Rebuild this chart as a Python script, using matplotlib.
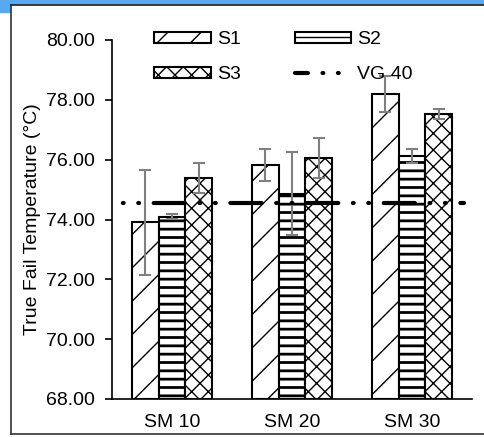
import matplotlib
matplotlib.use("Agg")
import matplotlib.pyplot as plt
import numpy as np
from matplotlib.patches import Rectangle
from matplotlib.lines import Line2D

plt.rcParams['font.family'] = ['Liberation Sans', 'DejaVu Sans']
plt.rcParams['hatch.linewidth'] = 1.0

categories = ["SM 10", "SM 20", "SM 30"]
series_names = ["S1", "S2", "S3"]
s1 = [73.91, 75.82, 78.20]
s2 = [74.10, 74.86, 76.12]
s3 = [75.39, 76.07, 77.52]
s1_err = [1.75, 0.52, 0.61]
s2_err = [0.08, 1.39, 0.22]
s3_err = [0.49, 0.67, 0.17]
vg40 = 74.55
yticks = [68, 70, 72, 74, 76, 78, 80]

W, H = 484, 437
fig = plt.figure(figsize=(W/100, H/100), dpi=100)

# frame decorations
fig.patches.append(Rectangle((0, 1-4/H), 1, 4/H, transform=fig.transFigure, color='#58A9F0', zorder=0))
fig.patches.append(Rectangle((0, 1-12/H), 10/W, 12/H, transform=fig.transFigure, color='#58A9F0', zorder=0))
fig.lines.append(Line2D([10.5/W, 10.5/W], [1-4.5/H, 1-433.5/H], transform=fig.transFigure, color='#333333', lw=1.2))
fig.lines.append(Line2D([10.5/W, 1], [1-4.5/H, 1-4.5/H], transform=fig.transFigure, color='#222222', lw=1.2))
fig.lines.append(Line2D([10.5/W, 1], [1-433.5/H, 1-433.5/H], transform=fig.transFigure, color='#333333', lw=1.2))

ax = fig.add_axes([112/W, 1-399/H, 360/W, 359/H])

x = np.arange(len(categories))
bw = 0.2222
hatches = ['/', '--', 'xx']
vals = [s1, s2, s3]
errs = [s1_err, s2_err, s3_err]
handles = []
for i, (v, e, h, name) in enumerate(zip(vals, errs, hatches, series_names)):
    lw_h = 2.0 if h == '--' else 1.0
    with plt.rc_context({'hatch.linewidth': lw_h}):
        bars = ax.bar(x + (i-1)*bw, np.array(v) - 68, bottom=68, width=bw,
                      facecolor='white', edgecolor='black', hatch=h, linewidth=1.5,
                      label=name, zorder=2)
    ax.errorbar(x + (i-1)*bw, v, yerr=e, fmt='none', ecolor='#808080',
                elinewidth=1.5, capsize=4, capthick=1.5, zorder=3)
    handles.append(bars)

pattern = (7.5, 3.5, 0.2, 3.5, 0.2, 3.5)
ax.plot([-0.5, 2.43], [vg40, vg40], color='black', lw=3.0,
        linestyle=(8.4, pattern), zorder=4,
        solid_capstyle='round', dash_capstyle='round')
vg_handle = Line2D([], [], color='black', lw=3.0, linestyle=(4.4, pattern),
                   dash_capstyle='round')

ax.set_xlim(-0.5, 2.5)
ax.set_ylim(68, 80)
ax.set_yticks(yticks)
ax.set_yticklabels([f"{t:.2f}" for t in yticks], fontsize=14)
ax.set_xticks(x)
ax.set_xticklabels(categories, fontsize=14)
ax.tick_params(axis='x', length=0, pad=11)
ax.tick_params(axis='y', length=5, width=1.2, direction='out', pad=7)
ax.spines['top'].set_visible(False)
ax.spines['right'].set_visible(False)
ax.spines['left'].set_linewidth(1.2)
ax.spines['bottom'].set_linewidth(1.2)
ax.set_ylabel("True Fail Temperature (°C)", fontsize=14, labelpad=4)

leg = ax.legend(handles=[handles[0], handles[2], handles[1], vg_handle],
                labels=["S1", "S3", "S2", "VG 40"], ncol=2, loc='upper left',
                bbox_to_anchor=(0.118, 1.025), frameon=False, fontsize=14,
                handlelength=2.9, handleheight=0.5, columnspacing=2.8,
                handletextpad=0.3, labelspacing=0.95, borderpad=0, borderaxespad=0)

fig.savefig("out.png", dpi=100)
